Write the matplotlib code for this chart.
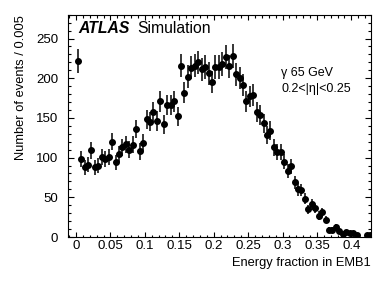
import matplotlib
matplotlib.use("Agg")
import matplotlib.pyplot as plt
import numpy as np
from matplotlib.ticker import MultipleLocator, FuncFormatter

plt.rcParams['font.family'] = ['Liberation Sans', 'DejaVu Sans']

# bin centres (bin width 0.005) and event counts
bin_width = 0.005
energy_fraction = np.arange(86) * bin_width + bin_width / 2
counts = [
    222, 98, 88, 91, 109, 88, 90, 101, 98, 101,
    120, 94, 105, 113, 117, 110, 116, 136, 108, 119,
    148, 145, 158, 146, 171, 142, 166, 166, 171, 152,
    216, 182, 202, 213, 216, 220, 211, 214, 206, 195,
    214, 214, 218, 227, 215, 228, 205, 200, 192, 171,
    177, 179, 157, 154, 143, 129, 134, 113, 107, 107,
    95, 83, 89, 69, 60, 59, 48, 35, 41, 36,
    27, 31, 22, 9, 9, 13, 7, 4, 6, 5,
    5, 3, np.nan, np.nan, 3, 3,
]
counts = np.array(counts, dtype=float)
errors = np.sqrt(counts)  # poisson errors

fig = plt.figure(figsize=(3.9, 2.81), dpi=100)
ax = fig.add_axes([68 / 390, 44 / 281, 303 / 390, 222.3 / 281])

ax.errorbar(energy_fraction, counts, yerr=errors, fmt='o', color='black',
            markersize=4, elinewidth=1.1, capsize=0)

ax.set_xlim(-0.0116, 0.4285)
ax.set_ylim(0, 280)

ax.xaxis.set_major_locator(MultipleLocator(0.05))
ax.xaxis.set_minor_locator(MultipleLocator(0.01))
ax.yaxis.set_major_locator(MultipleLocator(50))
ax.yaxis.set_minor_locator(MultipleLocator(10))
ax.xaxis.set_major_formatter(FuncFormatter(lambda v, _: f"{v:g}" if abs(v) > 1e-9 else "0"))

ax.tick_params(which='both', direction='in', top=True, right=True, labelsize=9.5, width=0.8)
ax.tick_params(axis='x', which='major', length=3.5, pad=2.5)
ax.tick_params(axis='x', which='minor', length=1.8)
ax.tick_params(axis='y', which='major', length=4.5, pad=7)
ax.tick_params(axis='y', which='minor', length=2.5)
for s in ax.spines.values():
    s.set_linewidth(0.8)

ax.set_xlabel("Energy fraction in EMB1", fontsize=9.3, loc='right')
ax.xaxis.set_label_coords(1.0, -0.09)
ax.set_ylabel("Number of events / 0.005", fontsize=9.3, loc='top')
ax.yaxis.set_label_coords(-0.135, 1.0)

ax.text(0.033, 0.918, "ATLAS", transform=ax.transAxes, fontsize=11.3,
        fontweight='bold', fontstyle='italic', va='baseline')
ax.text(0.228, 0.918, "Simulation", transform=ax.transAxes, fontsize=11.3, va='baseline')
ax.text(0.703, 0.726, "γ 65 GeV", transform=ax.transAxes, fontsize=9, va='baseline')
ax.text(0.703, 0.652, "0.2<|η|<0.25", transform=ax.transAxes, fontsize=9, va='baseline')

fig.savefig("out.png", dpi=100)
